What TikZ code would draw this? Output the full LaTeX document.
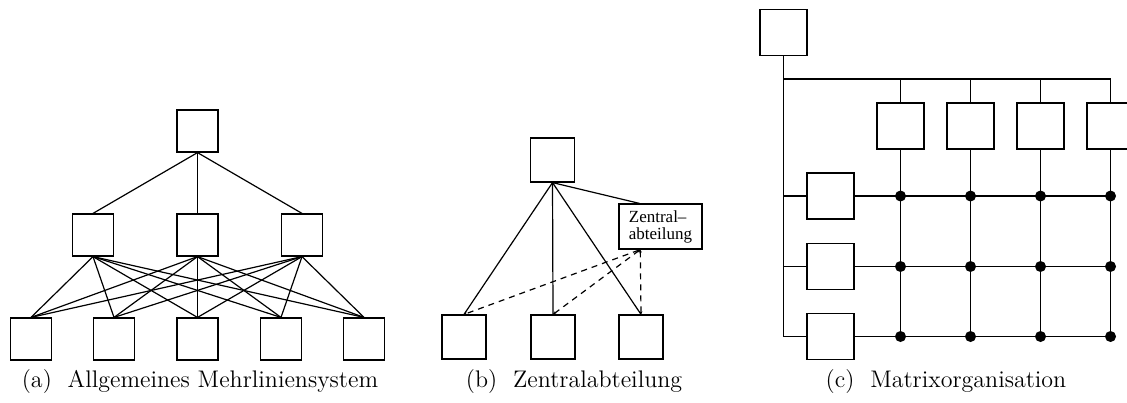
\documentclass[tikz,border=0pt]{standalone}
\usepackage{fontspec}
\newfontfamily\boxfont{Liberation Serif}
\usetikzlibrary{calc,arrows.meta}
\tikzset{
  unit/.style={draw, line width=0.6pt, minimum width=20.5pt, minimum height=21pt, inner sep=0pt},
  unitb/.style={draw, line width=0.6pt, minimum width=22pt, minimum height=22pt, inner sep=0pt},
  unitc/.style={draw, line width=0.6pt, minimum width=23.5pt, minimum height=23pt, inner sep=0pt},
  link/.style={line width=0.6pt},
  staff/.style={line width=0.6pt, dash pattern=on 3pt off 2.5pt, {Stealth[length=1.5pt,width=1.5pt]}-{Stealth[length=1.5pt,width=1.5pt]}},
  grid/.style={line width=0.9pt},
  knot/.style={circle, fill=black, inner sep=0pt, minimum size=5.5pt},
  caption/.style={font=\fontsize{12}{14}\selectfont, anchor=base, inner sep=0pt}
}
\begin{document}
\begin{tikzpicture}[x=0.5pt, y=-0.5pt]
\useasboundingbox (0,0) rectangle (1127,402);
\clip (0,0) rectangle (1127,402);

% (a) general multi-line system
\node[unit] (a0) at (197.5,131) {};
\node[unit] (a1) at (93,235) {};
\node[unit] (a2) at (197.5,235) {};
\node[unit] (a3) at (302,235) {};
\node[unit] (b1) at (31,339) {};
\node[unit] (b2) at (114,339) {};
\node[unit] (b3) at (197.5,339) {};
\node[unit] (b4) at (281,339) {};
\node[unit] (b5) at (364,339) {};
\foreach \m in {a1,a2,a3} {
  \draw[link] (a0.south) -- (\m.north);
  \foreach \b in {b1,b2,b3,b4,b5}
    \draw[link] (\m.south) -- (\b.north);
}
\node[caption] (capa) at (200,387) {(a)\hspace{4pt} Allgemeines Mehrliniensystem};

% (b) central department
\node[unitb] (c0) at (552.5,160) {};
\node[unitb] (d1) at (464,337) {};
\node[unitb] (d2) at (553,337) {};
\node[unitb] (d3) at (641,337) {};
\node[draw, line width=0.6pt, minimum width=41.5pt, minimum height=22.5pt, inner sep=0pt,
      align=left, font=\boxfont\fontsize{8.5}{8.5}\selectfont] (z) at (660.5,226.5) {Zentral\textendash\\abteilung};
\coordinate (zt) at ($(z.north west)!0.25!(z.north east)$);
\coordinate (zb) at ($(z.south west)!0.26!(z.south east)$);
\draw[link] (c0.south) -- (zt);
\foreach \m in {d1,d2,d3}
  \draw[link] (c0.south) -- (\m.north);
\draw[staff] (zb) -- (d1.north);
\draw[staff] (zb) -- (d2.north);
\draw[staff] (zb) -- (d3.north);
\node[caption] (capb) at (574,387) {(b)\hspace{4pt} Zentralabteilung};

% (c) matrix organisation
\node[unitc] (e0) at (783.5,32.5) {};
\node[unitc] (f1) at (900.5,126) {};
\node[unitc] (f2) at (970.5,126) {};
\node[unitc] (f3) at (1040.5,126) {};
\node[unitc] (f4) at (1110.5,126) {};
\node[unitc] (g1) at (830.5,196) {};
\node[unitc] (g2) at (830.5,266.5) {};
\node[unitc] (g3) at (830.5,336.5) {};
\coordinate (trunk) at (783.5,79);
\coordinate (trunkend) at (783.5,336.5);
\coordinate (barend) at (1110.5,79);
\draw[link] (e0.south) -- (trunkend);
\draw[link] (trunk) -- (barend);
\foreach \f in {f1,f2,f3,f4}
  \draw[link] (\f.north |- trunk) -- (\f.north);
\foreach \g in {g1,g2,g3} {
  \draw[link] (trunk |- \g.west) -- (\g.west);
  \draw[grid] (\g.east) -- (f4 |- \g.east);
}
\foreach \f in {f1,f2,f3,f4} {
  \draw[grid] (\f.south) -- (\f |- g3.east);
  \foreach \g in {g1,g2,g3}
    \node[knot] at (\f |- \g.east) {};
}
\node[caption] (capc) at (946,387) {(c)\hspace{4pt} Matrixorganisation};
\end{tikzpicture}
\end{document}
